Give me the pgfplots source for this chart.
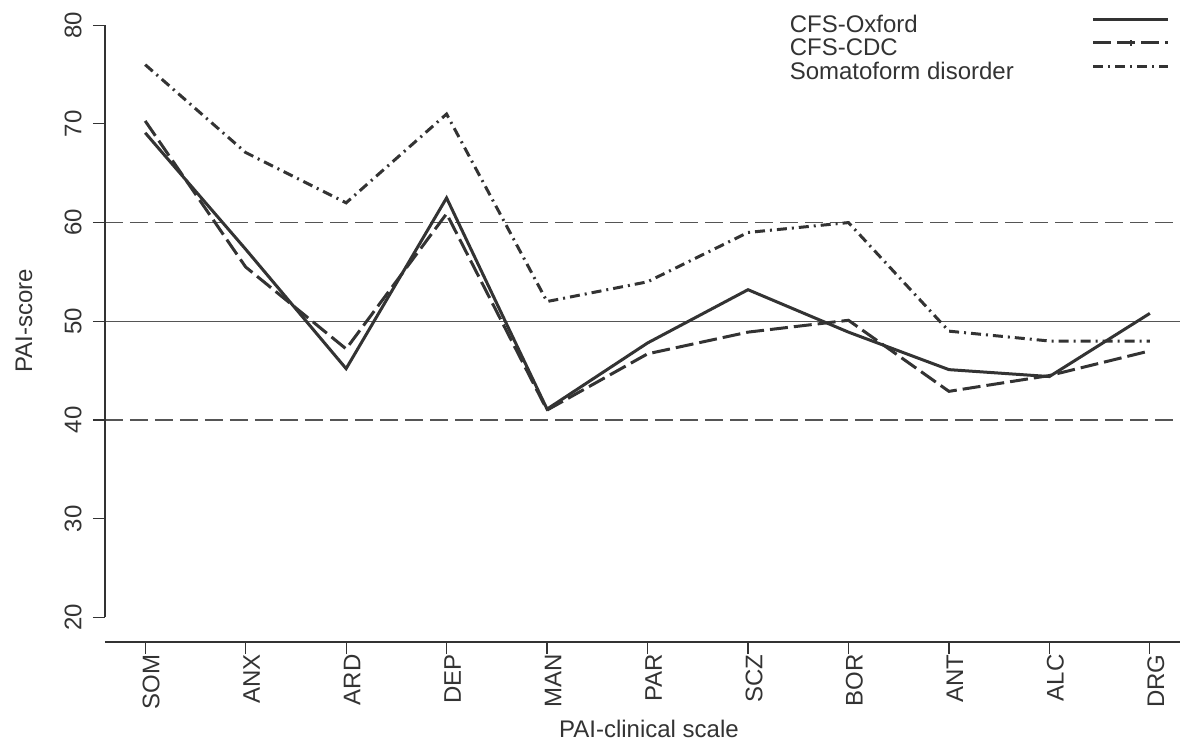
\documentclass[border=0pt]{standalone}
\usepackage{fontspec}
\setmainfont{Liberation Sans}
\usepackage{pgfplots}
\pgfplotsset{compat=1.18}
\definecolor{ink}{HTML}{333333}
\definecolor{refgray}{HTML}{555555}
\pgfplotsset{
  baseleg/.style={legend image code/.code={\path (0pt,0pt); \draw[##1] (39pt,6.3pt) -- (76.5pt,6.3pt);}},
  cdcleg/.style={legend image code/.code={\path (0pt,0pt); \draw[##1] (39pt,6.3pt) -- (76.5pt,6.3pt); \draw[ink, line width=0.8pt, solid] (57.75pt,4.8pt) -- (57.75pt,7.8pt);}},
}
\begin{document}
\begin{tikzpicture}[font=\fontsize{12}{14}\selectfont]
\begin{axis}[
  scale only axis,
  width=537.5pt, height=308.4pt,
  xmin=-0.4, xmax=10.3,
  ymin=17.5, ymax=80,
  axis line style={draw=none},
  xtick={0,...,10},
  xticklabels={SOM,ANX,ARD,DEP,MAN,PAR,SCZ,BOR,ANT,ALC,DRG},
  ytick={20,30,...,80},
  xtick pos=bottom, ytick pos=left,
  tick align=outside,
  x tick style={draw=ink, line width=0.6pt},
  y tick style={draw=ink, line width=0.6pt},
  major tick length=6pt,
  /pgf/number format/assume math mode=true,
  xticklabel style={rotate=90, anchor=east, text=ink, inner sep=0pt, yshift=-3pt},
  yticklabel style={rotate=90, anchor=south, text=ink, inner sep=0pt, yshift=5.5pt},
  xlabel={PAI-clinical scale},
  ylabel={PAI-score},
  every axis x label/.style={at={(rel axis cs:0.506,-0.154)}, anchor=base, text=ink},
  every axis y label/.style={at={(rel axis cs:-0.0753,0.5204)}, rotate=90, anchor=center, text=ink},
  clip=false,
  legend plot pos=right,
  legend style={draw=none, fill=none, inner sep=0pt, outer sep=0pt, row sep=0pt, column sep=0pt,
    at={(rel axis cs:0.637,1.0175)}, anchor=north west,
    nodes={inner sep=0pt, text height=8.8pt, text depth=2.95pt, anchor=base west, text=ink}},
  legend cell align=left,
  baseleg,
]
% reference lines
\addplot[refgray, line width=0.6pt, forget plot] coordinates {(-0.4,50) (10.3,50)};
\addplot[refgray, line width=0.6pt, dash pattern=on 9pt off 3.5pt, forget plot] coordinates {(-0.4,60) (10.3,60)};
\addplot[refgray, line width=0.6pt, dash pattern=on 9pt off 3.5pt, forget plot] coordinates {(-0.4,40) (10.3,40)};
% series
\addplot[ink, line width=1.5pt, solid] coordinates {
(0,69.1) (1,57.3) (2,45.2) (3,62.5) (4,41.1) (5,47.8) (6,53.2) (7,48.9) (8,45.1) (9,44.4) (10,50.8)};
\addlegendentry{CFS-Oxford}
\addplot[ink, line width=1.5pt, dash pattern=on 9pt off 3pt, cdcleg] coordinates {
(0,70.3) (1,55.5) (2,47.2) (3,60.9) (4,41.0) (5,46.7) (6,48.9) (7,50.1) (8,42.9) (9,44.5) (10,47.0)};
\addlegendentry{CFS-CDC}
\addplot[ink, line width=1.5pt, dash pattern=on 5pt off 2.5pt on 1pt off 2.5pt] coordinates {
(0,76) (1,67.1) (2,62) (3,71) (4,52) (5,54) (6,59) (7,60) (8,49) (9,48) (10,48)};
\addlegendentry{Somatoform disorder}
% axis lines
\draw[ink, line width=0.6pt] (axis cs:-0.4,20) -- (axis cs:-0.4,80);
\draw[ink, line width=0.6pt] (axis cs:-0.4,17.5) -- (axis cs:10.3,17.5);
\coordinate (BL) at (rel axis cs:-0.09767,-0.16375);
\coordinate (TR) at (rel axis cs:1,1.04086);
\end{axis}
\pgfresetboundingbox
\path[use as bounding box] (BL) rectangle (TR);
\end{tikzpicture}
\end{document}
